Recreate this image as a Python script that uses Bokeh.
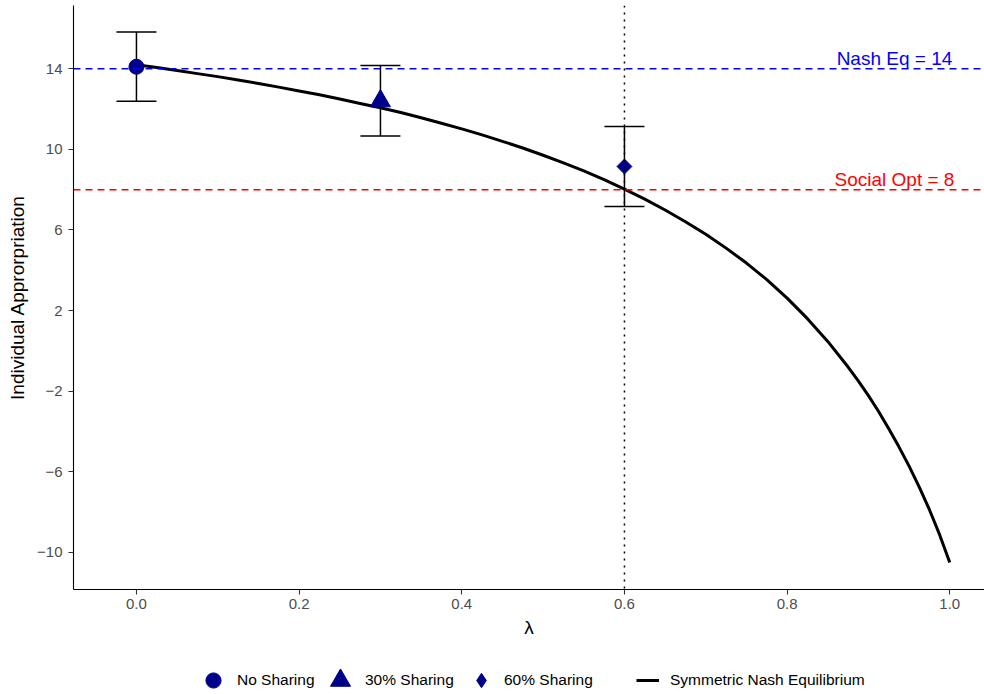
import numpy as np
from bokeh.plotting import figure
from bokeh.layouts import column
from bokeh.models import (ColumnDataSource, Span, Label, Whisker, TeeHead, Legend,
                          LegendItem, FixedTicker, Range1d, PrintfTickFormatter)
from bokeh.embed import file_html
from bokeh.resources import INLINE

# Observed mean appropriation per treatment, with error-bar bounds
treatments = ["No Sharing", "30% Sharing", "60% Sharing"]
lam_obs = [0.0, 0.3, 0.6]
mean_obs = [14.1, 12.4, 9.15]
lower_obs = [12.39, 10.66, 7.17]
upper_obs = [15.82, 14.16, 11.13]

# Symmetric Nash equilibrium appropriation as a function of the sharing rate
lam_curve = [0.0, 0.025, 0.05, 0.075, 0.1, 0.125, 0.15, 0.175, 0.2, 0.225, 0.25,
             0.275, 0.3, 0.325, 0.35, 0.375, 0.4, 0.425, 0.45, 0.475, 0.5, 0.525,
             0.55, 0.575, 0.6, 0.625, 0.65, 0.675, 0.7, 0.725, 0.75, 0.775, 0.8,
             0.825, 0.85, 0.875, 0.8875, 0.9, 0.9125, 0.925, 0.9375, 0.95, 0.9625,
             0.975, 0.9875, 1.0]
nash_curve = [14.2, 14.06, 13.91, 13.76, 13.61, 13.44, 13.27, 13.09, 12.90, 12.71, 12.50,
              12.28, 12.07, 11.83, 11.57, 11.30, 11.02, 10.72, 10.40, 10.07, 9.71, 9.33,
              8.93, 8.50, 8.03, 7.53, 6.99, 6.41, 5.79, 5.10, 4.36, 3.54, 2.62,
              1.60, 0.47, -0.80, -1.49, -2.22, -3.01, -3.86, -4.76, -5.72, -6.76,
              -7.88, -9.12, -10.5]

# Benchmarks
nash_eq = 14
social_opt = 8
lam_marked = 0.6

x_ticks = [0.0, 0.2, 0.4, 0.6, 0.8, 1.0]
y_ticks = [-10, -6, -2, 2, 6, 10, 14]

FONT = "Liberation Sans"
NAVY = "#00008B"

p = figure(width=984, height=645, output_backend="svg", toolbar_location=None,
           x_range=Range1d(-0.0774, 1.0427), y_range=Range1d(-11.84, 17.14),
           min_border_left=73, min_border_right=0, min_border_top=5,
           min_border_bottom=56)
p.xgrid.visible = False
p.ygrid.visible = False
p.outline_line_color = None
p.background_fill_color = "white"
p.border_fill_color = "white"

for ax in (p.xaxis[0], p.yaxis[0]):
    ax.axis_line_color = "black"
    ax.axis_line_width = 1.1
    ax.major_tick_line_color = "#333333"
    ax.major_tick_line_width = 1.1
    ax.major_tick_out = 5
    ax.major_tick_in = 0
    ax.minor_tick_line_color = None
    ax.major_label_text_font = FONT
    ax.major_label_text_font_size = "15px"
    ax.major_label_text_color = "#4D4D4D"
    ax.axis_label_text_font = FONT
    ax.axis_label_text_font_size = "19px"
    ax.axis_label_text_font_style = "normal"
    ax.axis_label_text_color = "black"

p.xaxis.ticker = FixedTicker(ticks=x_ticks)
p.xaxis.formatter = PrintfTickFormatter(format="%.1f")
p.xaxis.major_label_standoff = 4
p.xaxis.axis_label = "λ"
p.xaxis.axis_label_standoff = 5

p.yaxis.ticker = FixedTicker(ticks=y_ticks)
p.yaxis.major_label_overrides = {t: (f"\u2212{abs(t)}" if t < 0 else str(t)) for t in y_ticks}
p.yaxis.major_label_standoff = 6
p.yaxis.axis_label = "Individual Approrpriation"
p.yaxis.axis_label_standoff = 6

# Benchmark lines
p.add_layout(Span(location=nash_eq, dimension="width", line_color="#0000FF",
                  line_dash="7 5", line_width=1.5))
p.add_layout(Span(location=social_opt, dimension="width", line_color="#FF0000",
                  line_dash="7 5", line_width=1.5))
p.add_layout(Span(location=lam_marked, dimension="height", line_color="black",
                  line_dash="2 5", line_width=1.5))

# Benchmark labels sit just above their lines
p.add_layout(Label(x=0.932, y=nash_eq, text=f"Nash Eq = {nash_eq}", text_align="center",
                   text_baseline="middle", y_offset=10, text_color="#0000FF",
                   text_font=FONT, text_font_size="19px"))
p.add_layout(Label(x=0.932, y=social_opt, text=f"Social Opt = {social_opt}",
                   text_align="center", text_baseline="middle", y_offset=10,
                   text_color="#FF0000", text_font=FONT, text_font_size="19px"))

# Equilibrium curve
p.line(lam_curve, nash_curve, line_width=3, line_color="black", line_join="round")

# Treatment means
markers = ["circle", "triangle", "square"]
sizes = [15, 20, 10.5]
angles = [0, 0, np.pi / 4]
for i in range(len(treatments)):
    p.scatter(x=[lam_obs[i]], y=[mean_obs[i]], marker=markers[i], size=sizes[i],
              angle=angles[i], fill_color=NAVY, line_color=NAVY)

err_src = ColumnDataSource(dict(base=lam_obs, lower=lower_obs, upper=upper_obs))
p.add_layout(Whisker(source=err_src, base="base", lower="lower", upper="upper",
                     line_color="black", line_width=1.5,
                     upper_head=TeeHead(size=40, line_color="black", line_width=1.5),
                     lower_head=TeeHead(size=40, line_color="black", line_width=1.5)))

# Legend strip under the chart: one key box per entry so each symbol keeps its size.
# The key renderers hold the same series but the strip's ranges keep them out of view.
leg_fig = figure(width=984, height=49, output_backend="svg", toolbar_location=None,
                 x_range=Range1d(100, 101), y_range=Range1d(100, 101),
                 x_axis_location=None, y_axis_location=None, min_border=0)
leg_fig.xgrid.visible = False
leg_fig.ygrid.visible = False
leg_fig.outline_line_color = None
leg_fig.background_fill_color = "white"
leg_fig.border_fill_color = "white"

# legend keys ignore marker rotation, so the third key uses the diamond marker
key_markers = ["circle", "triangle", "diamond"]
keys = []
for i in range(len(treatments)):
    keys.append(leg_fig.scatter(x=[lam_obs[i]], y=[mean_obs[i]], marker=key_markers[i],
                                size=sizes[i], fill_color=NAVY, line_color=NAVY))
keys.append(leg_fig.line(lam_curve, nash_curve, line_width=3, line_color="black"))
key_labels = treatments + ["Symmetric Nash Equilibrium"]

# key box width, key box height, label standoff, left edge (from the strip's frame)
key_layout = [(38, 38, 5, 121), (50, 50, 0, 242), (36, 36, 5, 390), (23, 20, 11, 563)]
for rend, lab, (gw, gh, so, left) in zip(keys, key_labels, key_layout):
    leg = Legend(items=[LegendItem(label=lab, renderers=[rend])],
                 location=(left, 14 - gh / 2), orientation="horizontal",
                 glyph_width=gw, glyph_height=gh, label_height=gh, label_standoff=so,
                 padding=0, margin=0, spacing=0, border_line_color=None,
                 background_fill_alpha=0, label_text_font=FONT,
                 label_text_font_size="15.5px", label_text_color="black")
    leg_fig.add_layout(leg)

layout = column(p, leg_fig, spacing=0)
open("out.html", "w").write(file_html(layout, INLINE))
